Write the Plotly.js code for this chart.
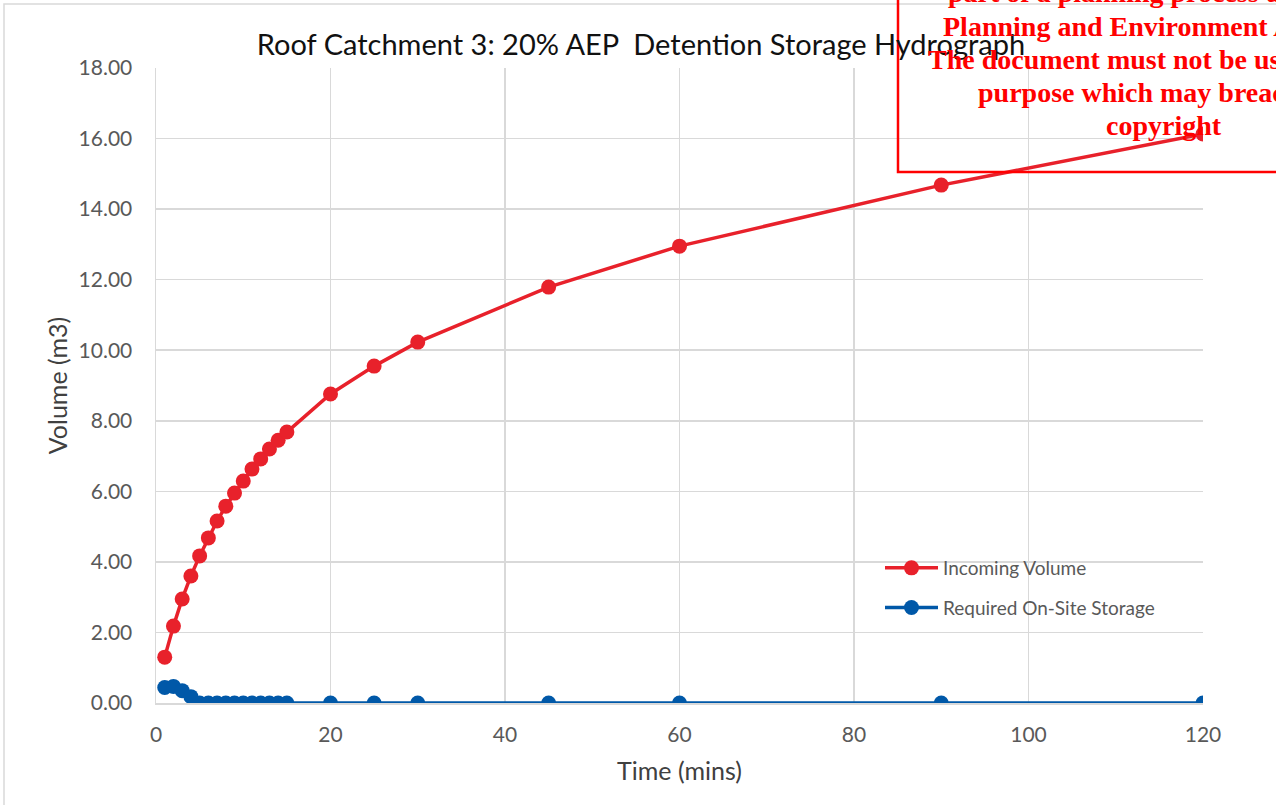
<!DOCTYPE html>
<html>
<head>
<meta charset="utf-8">
<script src="https://cdn.plot.ly/plotly-3.0.1.min.js"></script>
<style>
html,body{margin:0;padding:0;background:#fff;}
#chart{width:1276px;height:805px;}
</style>
</head>
<body>
<div id="chart"></div>
<script>
const timeMins = [1,2,3,4,5,6,7,8,9,10,11,12,13,14,15,20,25,30,45,60,90,120];
const incomingVolume = [1.30,2.18,2.95,3.60,4.17,4.68,5.16,5.58,5.95,6.29,6.63,6.92,7.20,7.45,7.68,8.76,9.55,10.23,11.79,12.95,14.68,16.13];
const requiredStorage = [0.44,0.47,0.35,0.18,0,0,0,0,0,0,0,0,0,0,0,0,0,0,0,0,0,0];
const seriesNames = ["Incoming Volume","Required On-Site Storage"];
const watermarkLines = [
  "part of a planning process under the",
  "Planning and Environment Act 1987.",
  "The document must not be used for any",
  "purpose which may breach any",
  "copyright"
];

const W = 1276, H = 805;
const M = {l:156, r:73, t:68, b:102};
const pw = W - M.l - M.r, ph = H - M.t - M.b;
const px = x => (x - M.l) / pw;
const py = y => (H - M.b - y) / ph;

const red = "#E8212B", blue = "#0058A8";
const font = "Lato, 'Open Sans', sans-serif";

const traces = [
  {x: timeMins, y: incomingVolume, name: seriesNames[0], type: "scatter", mode: "lines+markers",
   line:{color:red, width:3.5}, marker:{color:red, size:15}, legendgroup:"a"},
  {x: timeMins, y: requiredStorage, name: seriesNames[1], type: "scatter", mode: "lines+markers",
   line:{color:blue, width:3.5}, marker:{color:blue, size:15}, legendgroup:"b"}
];

const annotations = watermarkLines.map((t,i) => ({
  text: t, xref:"paper", yref:"paper", x: px(1164), y: py(-7 + i*33.2),
  xanchor:"center", yanchor:"middle", showarrow:false,
  font:{family:"'Liberation Serif', 'Times New Roman', serif", size:28, color:"#FF0000", weight:"bold"}
}));

const layout = {
  width: W, height: H,
  margin: M,
  paper_bgcolor:"#fff", plot_bgcolor:"#fff",
  font:{family:font, color:"#595959"},
  title:{text:"Roof Catchment 3: 20% AEP  Detention Storage Hydrograph", x:641/W, xref:"container", y:1-45/H, yanchor:"middle",
         xanchor:"center", font:{family:font, size:29, color:"#111111"}},
  xaxis:{range:[0,120], dtick:20, tick0:0, showgrid:true, gridcolor:"#d9d9d9", gridwidth:1.5,
         showline:true, linecolor:"#d9d9d9", linewidth:1.5, zeroline:false, ticks:"",
         ticklabelstandoff:12, tickfont:{size:21, color:"#595959"},
         title:{text:"Time (mins)", font:{size:25, color:"#404040"}, standoff:18}},
  yaxis:{range:[0,18], dtick:2, tick0:0, tickformat:".2f", showgrid:true, gridcolor:"#d9d9d9", gridwidth:1.5,
         showline:true, linecolor:"#d9d9d9", linewidth:1.5, zeroline:false, ticks:"",
         ticklabelstandoff:18, tickfont:{size:21, color:"#595959"},
         title:{text:"Volume (m3)", font:{size:25, color:"#404040"}, standoff:4}},
  legend:{x:px(880), y:py(549), xanchor:"left", yanchor:"top", bgcolor:"rgba(0,0,0,0)",
          font:{size:19, color:"#595959"}, itemwidth:53, tracegroupgap:12, traceorder:"grouped"},
  showlegend:true,
  shapes:[
    {type:"rect", xref:"paper", yref:"paper", x0:px(4), x1:px(W+20), y0:py(H+20), y1:py(4),
     line:{color:"#d9d9d9", width:1.5}, fillcolor:"rgba(0,0,0,0)", layer:"below"},
    {type:"rect", xref:"paper", yref:"paper", x0:px(898), x1:px(W+20), y0:py(172), y1:py(-20),
     line:{color:"#FF0000", width:2.5}, fillcolor:"rgba(0,0,0,0)", layer:"above"}
  ],
  annotations: annotations
};

Plotly.newPlot("chart", traces, layout, {displayModeBar:false, staticPlot:true});
</script>
</body>
</html>
